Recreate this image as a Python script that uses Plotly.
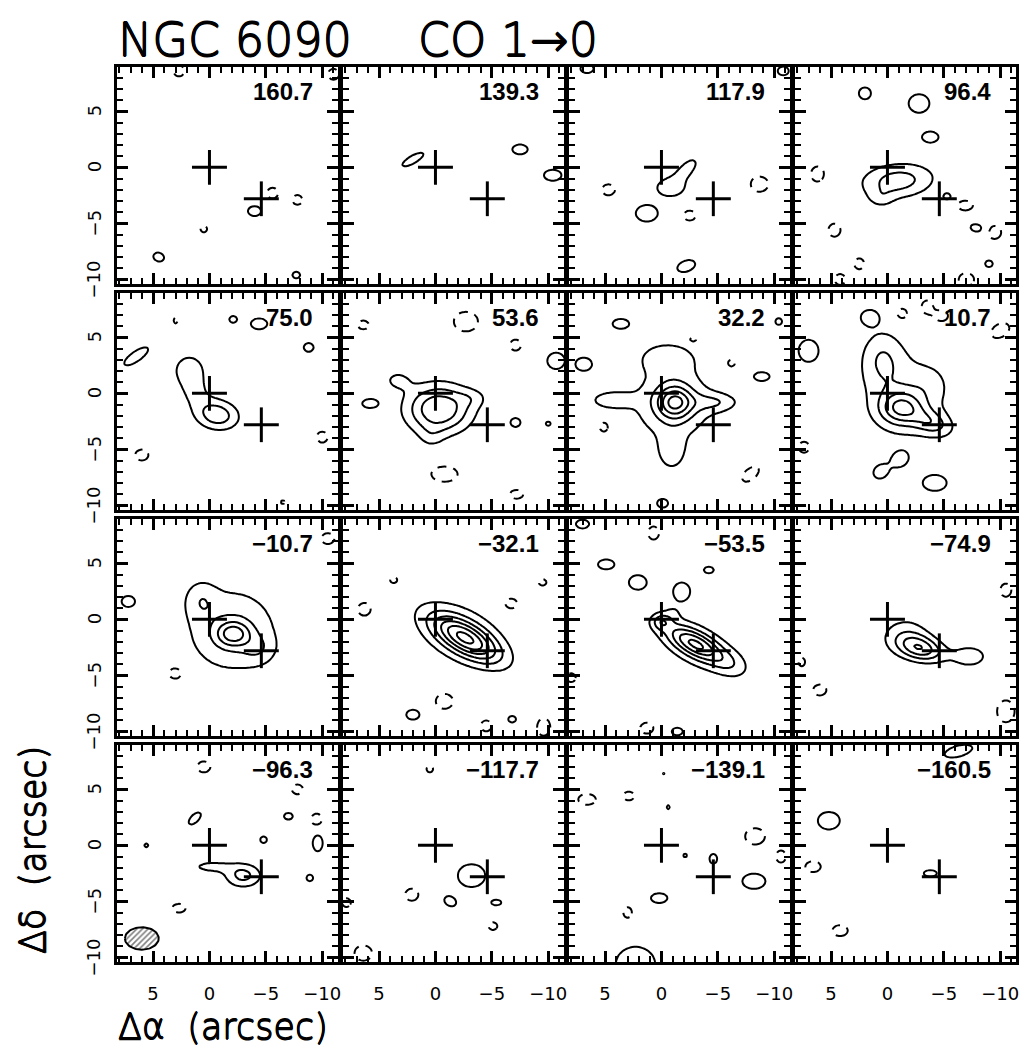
import numpy as np
import plotly.graph_objects as go

# ---------------------------------------------------------------------------
# Channel map of NGC 6090, CO 1->0.  Each channel is described by a set of
# elliptical Gaussian components (x0, y0, sigma_x, sigma_y, pa_deg, amplitude)
# in arcsec offsets; amplitudes are in units of the lowest contour level.
# ---------------------------------------------------------------------------
VELOCITIES = ["160.7", "139.3", "117.9", "96.4",
              "75.0", "53.6", "32.2", "10.7",
              "\u221210.7", "\u221232.1", "\u221253.5", "\u221274.9",
              "\u221296.3", "\u2212117.7", "\u2212139.1", "\u2212160.5"]

ch_160_7 = [(-4.0, -3.9, 0.6, 0.45, 0, 1.6), (4.5, -8.0, 0.5, 0.4, 20, 1.6),
            (-7.7, -9.6, 0.35, 0.3, 0, 1.6),
            (-5.6, -2.3, 0.5, 0.5, 0, -1.6), (-7.8, -2.9, 0.45, 0.45, 0, -1.6),
            (0.5, -5.5, 0.3, 0.3, 0, -1.6), (2.7, 8.6, 0.5, 0.5, 0, -1.6),
            (-11.0, 8.3, 0.5, 0.5, 0, -1.6)]
ch_139_3 = [(2.0, 0.7, 1.1, 0.35, -30, 1.6), (-7.5, 1.6, 0.7, 0.45, 0, 1.6),
            (-10.4, -0.7, 0.8, 0.5, 0, 1.6)]
ch_117_9 = [(-0.8, -1.8, 1.1, 0.7, 0, 1.7), (-2.2, -0.2, 1.1, 0.5, -45, 1.6),
            (1.3, -4.1, 1.0, 0.75, 0, 1.6), (-2.2, -8.8, 0.85, 0.5, -20, 1.6),
            (6.6, 8.8, 0.6, 0.4, 0, 1.6), (-10.8, 8.6, 0.5, 0.4, 0, 1.6),
            (4.7, -2.0, 0.6, 0.5, 0, -1.6), (-2.5, -4.3, 0.55, 0.45, 0, -1.6),
            (-8.7, -1.5, 0.8, 0.7, 0, -1.6)]
ch_96_4 = [(-0.9, -1.2, 2.3, 1.1, -5, 2.5), (0.6, -2.8, 0.8, 0.6, 0, 0.9),
           (-5.3, -2.6, 0.3, 0.25, 0, 1.6),
           (2.0, 6.6, 0.55, 0.55, 0, 1.6), (-2.8, 5.7, 0.95, 0.85, 0, 1.6),
           (-3.8, 2.7, 0.75, 0.5, 0, 1.6), (-7.9, -5.4, 0.55, 0.35, 10, 1.6),
           (-9.0, -8.6, 0.35, 0.3, 0, 1.6),
           (6.2, -0.6, 0.6, 0.7, 0, -1.6), (4.7, -5.6, 0.55, 0.6, 0, -1.6),
           (-6.9, -3.4, 0.7, 0.45, 0, -1.6), (2.5, -8.6, 0.45, 0.5, 0, -1.6),
           (-7.0, -10.0, 0.7, 0.6, 0, -1.6), (-9.5, -5.8, 0.6, 0.6, 0, -1.6),
           (4.2, -10.0, 0.5, 0.5, 0, -1.6)]
ch_75_0 = [(-0.65, -1.9, 1.4, 0.95, 10, 2.7), (1.8, 2.1, 1.1, 1.1, 0, 1.6),
           (1.3, 0.1, 1.0, 1.0, 0, 1.0),
           (-2.1, 6.6, 0.35, 0.3, 0, 1.6), (-4.4, 6.2, 0.75, 0.5, 0, 1.6),
           (-8.8, 4.1, 0.45, 0.4, 0, 1.6), (6.5, 3.3, 1.3, 0.45, -35, 1.6),
           (6.0, -5.5, 0.6, 0.5, 0, -1.6), (-10.0, -3.9, 0.5, 0.5, 0, -1.6),
           (3.0, 6.5, 0.2, 0.3, 0, -1.5), (-6.5, -9.7, 0.2, 0.2, 0, -1.4)]
ch_53_6 = [(-0.3, -1.4, 2.0, 1.5, 0, 4.0), (3.4, 1.2, 1.0, 0.7, 0, 1.1),
           (-3.3, -0.4, 1.0, 0.6, 0, 0.8), (0.4, -3.9, 0.8, 0.8, 0, 0.7),
           (5.8, -0.9, 0.7, 0.4, 0, 1.6), (-7.1, -2.6, 0.45, 0.4, 0, 1.6),
           (-10.7, 2.9, 0.8, 0.75, 0, 1.6), (-10.0, -2.7, 0.25, 0.2, 0, 1.5),
           (6.4, 6.1, 0.5, 0.4, 0, -1.6), (-2.7, 6.4, 1.1, 0.9, 0, -1.6),
           (-7.1, 4.3, 0.5, 0.5, 0, -1.6), (-0.8, -7.2, 1.2, 0.7, 0, -1.6),
           (-7.2, -9.0, 0.6, 0.4, 0, -1.6)]
ch_32_2 = [(-1.2, -0.8, 1.05, 1.0, 0, 3.5), (-1.0, -0.9, 2.6, 2.4, 0, 2.0),
           (4.5, -0.6, 1.4, 0.6, 0, 1.5), (-4.8, -0.8, 1.5, 0.6, 0, 1.5),
           (-0.5, 3.2, 1.8, 1.0, 0, 1.45), (-0.9, -5.3, 0.9, 1.2, 0, 1.4),
           (3.6, 6.2, 0.75, 0.45, 0, 1.6), (6.9, 2.6, 0.75, 0.6, 0, 1.6),
           (-8.9, 1.5, 0.7, 0.4, 0, 1.6), (-10.4, 6.4, 0.3, 0.3, 0, 1.6),
           (-0.1, -9.8, 0.5, 0.4, 0, 1.6),
           (5.1, -3.0, 0.4, 0.45, 0, -1.6), (-2.8, 4.8, 0.4, 0.3, 0, -1.6),
           (-6.2, 2.7, 0.35, 0.35, 0, -1.6), (-7.9, -7.2, 0.9, 0.5, -40, -1.6)]
ch_10_7 = [(-1.2, -1.3, 1.3, 1.0, 0, 3.0), (-3.9, -2.6, 1.3, 0.75, 20, 2.0),
           (0.5, 3.2, 1.3, 1.8, 0, 1.55), (-1.5, -0.3, 2.8, 3.0, -20, 1.5),
           (-3.8, 0.8, 1.2, 1.2, 0, 0.6),
           (0.6, -7.0, 0.65, 0.55, -35, 1.6), (-1.1, -5.9, 0.65, 0.55, -35, 1.6),
           (-4.2, -8.0, 1.05, 0.7, 0, 1.6), (1.6, 6.8, 0.7, 0.6, 0, 1.6),
           (7.0, 3.8, 0.9, 1.0, 0, 1.6),
           (-1.3, 7.1, 0.5, 0.5, 0, -1.6), (-3.5, 7.7, 0.5, 0.6, 0, -1.6),
           (-4.8, 6.9, 0.6, 0.5, 0, -1.6), (-10.0, 5.6, 0.9, 0.6, -30, -1.6),
           (7.4, -4.8, 0.5, 0.5, 0, -1.6)]
ch_m10_7 = [(-2.1, -1.3, 1.0, 0.75, 0, 2.9), (-2.0, -1.0, 3.0, 2.8, 0, 2.0),
            (0.8, 1.8, 1.0, 1.2, 0, 1.2), (-4.3, -2.6, 1.0, 0.9, 0, 1.0),
            (7.2, 1.6, 0.6, 0.5, 0, 1.6),
            (3.0, -4.8, 0.7, 0.6, 0, -1.6), (-10.5, 7.2, 0.6, 0.5, 0, -1.6)]
ch_m32_1 = [(-2.7, -1.7, 2.3, 0.95, 30, 5.0), (-2.2, -1.2, 3.2, 2.0, 25, 1.4),
            (2.0, -8.5, 0.6, 0.45, 0, 1.6), (-6.8, -8.9, 0.35, 0.3, 0, 1.6),
            (6.3, 0.9, 0.6, 0.6, 0, -1.6), (-6.7, 1.4, 0.6, 0.5, 0, -1.6),
            (-9.5, 3.3, 0.35, 0.3, 0, -1.6), (3.7, 3.5, 0.35, 0.3, 0, -1.6),
            (-0.8, -7.3, 0.8, 0.7, 0, -1.6), (-4.5, -9.5, 0.5, 0.5, 0, -1.6),
            (-9.6, -9.6, 0.6, 0.8, 0, -1.6)]
ch_m53_5 = [(-3.0, -2.2, 1.9, 0.75, 28, 4.0), (-3.2, -2.4, 3.0, 1.5, 28, 1.3),
            (0.0, -0.2, 0.6, 0.5, 0, 1.9),
            (-6.2, -4.0, 1.2, 0.8, 25, 0.9), (-1.0, 0.6, 0.6, 0.5, 0, 0.6),
            (4.9, 4.9, 0.75, 0.45, 0, 1.6), (2.1, 3.3, 0.8, 0.65, 0, 1.6),
            (-1.8, 2.5, 0.75, 0.8, 0, 1.6), (-4.2, 4.4, 0.45, 0.3, 0, 1.6),
            (7.0, 8.5, 0.6, 0.4, 0, 1.6), (-1.4, -10.0, 0.5, 0.35, 0, 1.6),
            (0.7, 7.7, 0.5, 0.6, 0, -1.6), (1.3, -9.7, 0.6, 0.5, 0, -1.6),
            (8.0, -5.2, 0.4, 0.4, 0, -1.6)]
ch_m74_9 = [(-3.0, -2.6, 1.4, 0.75, 15, 3.3), (-1.6, -1.5, 1.6, 1.3, 0, 1.5),
            (-7.3, -3.3, 1.3, 0.8, 0, 1.5),
            (-10.5, 2.6, 0.5, 0.6, 0, -1.6), (7.6, -3.8, 0.3, 0.4, 0, -1.6),
            (6.0, -6.3, 0.6, 0.5, 0, -1.6), (-10.5, -8.2, 0.8, 1.0, 0, -1.6)]
ch_m96_3 = [(-3.0, -2.7, 1.15, 0.75, 0, 2.3), (-0.1, -1.9, 1.5, 0.45, 0, 1.25),
            (1.3, 2.4, 0.7, 0.35, -45, 1.6), (-7.0, 2.6, 0.4, 0.3, 0, 1.6),
            (-4.8, 0.5, 0.3, 0.3, 0, 1.6), (-8.9, -2.9, 0.3, 0.3, 0, 1.6),
            (-9.6, 0.2, 0.45, 0.75, 0, 1.6), (5.6, 0.0, 0.2, 0.2, 0, 1.5),
            (0.5, 7.0, 0.6, 0.5, 0, -1.6), (-7.8, 5.0, 0.5, 0.45, 0, -1.6),
            (-9.5, 2.3, 0.5, 0.55, 0, -1.6), (2.7, -5.6, 0.6, 0.4, 0, -1.6),
            (-5.9, -7.5, 0.15, 0.2, 0, -1.4)]
ch_m117_7 = [(-3.2, -2.7, 1.25, 1.05, 0, 1.6), (-1.3, -5.0, 0.55, 0.4, 30, 1.6),
             (-5.4, -5.1, 0.45, 0.25, 0, 1.6),
             (2.1, -4.4, 0.6, 0.55, 0, -1.6), (-5.1, -7.2, 0.4, 0.35, 0, -1.6),
             (0.5, 6.8, 0.3, 0.3, 0, -1.6), (6.4, -9.6, 0.8, 0.7, 0, -1.6),
             (7.9, -5.1, 0.4, 0.4, 0, -1.6)]
ch_m139_1 = [(-4.6, -1.2, 0.35, 0.45, 0, 1.6), (-8.2, -3.2, 1.05, 0.7, 0, 1.6),
             (0.2, -4.7, 0.75, 0.45, 0, 1.6), (2.3, -10.6, 1.8, 1.6, 0, 1.6),
             (-0.6, 3.4, 0.18, 0.22, 0, 1.4), (-2.1, -0.9, 0.2, 0.2, 0, 1.4),
             (4.7, -6.2, 0.12, 0.12, 0, 1.3), (-10.4, -7.3, 0.12, 0.12, 0, 1.3),
             (-0.2, 6.4, 0.12, 0.12, 0, 1.3),
             (-8.3, 0.8, 0.9, 0.75, 0, -1.6), (6.6, 4.1, 0.8, 0.5, 0, -1.6),
             (2.9, 4.4, 0.5, 0.4, 0, -1.6), (3.0, -6.0, 0.4, 0.5, 0, -1.6),
             (-10.6, -1.0, 0.45, 0.55, 0, -1.6)]
ch_m160_5 = [(5.2, 2.2, 1.0, 0.8, 0, 1.6), (-3.8, -2.5, 0.6, 0.3, 0, 1.6),
             (-6.3, 8.4, 1.3, 0.5, -15, 1.6),
             (4.2, -7.6, 0.7, 0.5, 0, -1.6), (6.6, -1.9, 0.7, 0.5, 0, -1.6)]

CHANNELS = [ch_160_7, ch_139_3, ch_117_9, ch_96_4,
            ch_75_0, ch_53_6, ch_32_2, ch_10_7,
            ch_m10_7, ch_m32_1, ch_m53_5, ch_m74_9,
            ch_m96_3, ch_m117_7, ch_m139_1, ch_m160_5]

# Nuclear positions marked with crosses (arcsec)
CROSS_X = [0.0, -4.6]
CROSS_Y = [0.0, -2.8]
CROSS_HALF = 1.55

# Synthesized beam (shown in the lower-left panel)
BEAM_X, BEAM_Y = 6.0, -8.3
BEAM_MAJOR, BEAM_MINOR, BEAM_PA = 1.5, 1.0, 0.0

# Contour levels in units of the lowest level
POS_LEVELS = dict(start=1, end=9, size=1)
NEG_LEVELS = dict(start=-4, end=-1, size=1)

MAJOR_STEP, MINOR_STEP = 5, 1
Y_TICK_VALUES = [5, 0, -5, -10]
X_RANGE = [8.2, -11.4]
Y_RANGE = [-10.4, 8.95]

# ---------------------------------------------------------------------------
gx = np.round(np.arange(-12.0, 9.01, 0.2), 2)
gy = np.round(np.arange(-11.0, 9.61, 0.2), 2)
GX, GY = np.meshgrid(gx, gy)


def channel_field(components):
    z = np.zeros_like(GX)
    for x0, y0, sx, sy, pa, amp in components:
        t = np.radians(pa)
        dx, dy = GX - x0, GY - y0
        u = dx * np.cos(t) + dy * np.sin(t)
        v = -dx * np.sin(t) + dy * np.cos(t)
        z += amp * np.exp(-0.5 * ((u / sx) ** 2 + (v / sy) ** 2))
    return np.round(z, 2)


def tick_text(v):
    return ("\u2212" + str(abs(v))) if v < 0 else str(v)


W, H = 1026, 1046
COL_LEFT = [117, 343, 569, 795]
ROW_TOP = [67, 293, 519, 745]
PANEL_W, PANEL_H = 221, 217
TICK_FONT = dict(family="DejaVu Sans", size=18, color="black")

fig = go.Figure()
layout = dict(width=W, height=H, autosize=False,
              margin=dict(l=0, r=0, t=0, b=0, pad=0, autoexpand=False),
              paper_bgcolor="white", plot_bgcolor="white", showlegend=False)
annotations = []

for i, comps in enumerate(CHANNELS):
    r, c = divmod(i, 4)
    n = i + 1
    xs = "x" if n == 1 else f"x{n}"
    ys = "y" if n == 1 else f"y{n}"
    z = channel_field(comps)

    fig.add_trace(go.Contour(
        x=gx, y=gy, z=z, xaxis=xs, yaxis=ys, autocontour=False,
        contours=dict(coloring="none", **POS_LEVELS),
        line=dict(color="black", width=2, smoothing=1.0),
        showscale=False, hoverinfo="skip"))
    fig.add_trace(go.Contour(
        x=gx, y=gy, z=z, xaxis=xs, yaxis=ys, autocontour=False,
        contours=dict(coloring="none", **NEG_LEVELS),
        line=dict(color="black", width=2, smoothing=1.0, dash="9px,7px"),
        showscale=False, hoverinfo="skip"))

    # crosses at the two nuclei
    cx, cy = [], []
    for x0, y0 in zip(CROSS_X, CROSS_Y):
        cx += [x0 + CROSS_HALF, x0 - CROSS_HALF, None, x0, x0, None]
        cy += [y0, y0, None, y0 + CROSS_HALF, y0 - CROSS_HALF, None]
    fig.add_trace(go.Scatter(x=cx, y=cy, mode="lines", xaxis=xs, yaxis=ys,
                             line=dict(color="black", width=3),
                             hoverinfo="skip"))

    left = COL_LEFT[c] / W
    right = (COL_LEFT[c] + PANEL_W) / W
    top = 1 - ROW_TOP[r] / H
    bottom = 1 - (ROW_TOP[r] + PANEL_H) / H

    common = dict(showline=True, linewidth=2.6, linecolor="black",
                  mirror="ticks", ticks="inside", ticklen=11,
                  tickwidth=2.5, tickcolor="black",
                  tickmode="linear", tick0=0, dtick=MAJOR_STEP,
                  minor=dict(ticks="inside", ticklen=6, tickwidth=2,
                             tick0=0, dtick=MINOR_STEP, tickcolor="black"),
                  showgrid=False, zeroline=False, automargin=False,
                  tickfont=TICK_FONT)
    layout["xaxis" if n == 1 else f"xaxis{n}"] = dict(
        common, domain=[left, right], range=X_RANGE, anchor=ys,
        showticklabels=(r == 3), ticklabelstandoff=14)
    layout["yaxis" if n == 1 else f"yaxis{n}"] = dict(
        common, domain=[bottom, top], range=Y_RANGE, anchor=xs,
        showticklabels=False)

    # y tick labels of the left column, written upright along the axis
    if c == 0:
        for v in Y_TICK_VALUES:
            annotations.append(dict(
                text=tick_text(v), xref=f"{xs} domain", yref=ys, x=0, y=v,
                xanchor="center", yanchor="middle", xshift=-23,
                textangle=-90, showarrow=False, font=TICK_FONT))

    annotations.append(dict(
        text=VELOCITIES[i], xref=f"{xs} domain", yref=f"{ys} domain",
        x=1, y=1, xanchor="right", yanchor="top", xshift=-23, yshift=-9,
        showarrow=False,
        font=dict(family="Liberation Sans", size=24, color="black",
                  weight="bold"),
        ))

# beam ellipse, hatched
t = np.linspace(0, 2 * np.pi, 73)
pa = np.radians(BEAM_PA)
bx = BEAM_X + BEAM_MAJOR * np.cos(t) * np.cos(pa) - BEAM_MINOR * np.sin(t) * np.sin(pa)
by = BEAM_Y + BEAM_MAJOR * np.cos(t) * np.sin(pa) + BEAM_MINOR * np.sin(t) * np.cos(pa)
fig.add_trace(go.Scatter(x=bx, y=by, mode="lines", xaxis="x13", yaxis="y13",
                         fill="toself", fillcolor="white",
                         fillpattern=dict(shape="/", fgcolor="black",
                                          bgcolor="white", size=4,
                                          solidity=0.4),
                         line=dict(color="black", width=2),
                         hoverinfo="skip"))

# light face thickened slightly with a zero-offset text shadow
THICKEN = ("0.6px 0 0 black, -0.6px 0 0 black, "
           "0 0.6px 0 black, 0 -0.6px 0 black")
title_font = dict(family="DejaVu Sans", size=46, color="black", weight=300,
                  shadow=THICKEN)
label_font = dict(family="DejaVu Sans", size=35, color="black", weight=300,
                  shadow=THICKEN)
annotations += [
    dict(text="NGC 6090", xref="paper", yref="paper", x=116 / W, y=1 - 40 / H,
         xanchor="left", yanchor="middle", showarrow=False, font=title_font),
    dict(text="CO 1\u21920", xref="paper", yref="paper", x=416 / W,
         y=1 - 40 / H, xanchor="left", yanchor="middle", showarrow=False,
         font=title_font),
    dict(text="\u0394\u03b1\u00a0\u00a0(arcsec)", xref="paper", yref="paper",
         x=116 / W, y=1 - 1027 / H, xanchor="left", yanchor="middle",
         showarrow=False, font=label_font),
    dict(text="\u0394\u03b4\u00a0\u00a0(arcsec)", xref="paper", yref="paper",
         x=33 / W, y=1 - 850 / H, xanchor="center", yanchor="middle",
         textangle=-90, showarrow=False, font=label_font),
]
layout["annotations"] = annotations
fig.update_layout(**layout)
fig.write_html("out.html")
